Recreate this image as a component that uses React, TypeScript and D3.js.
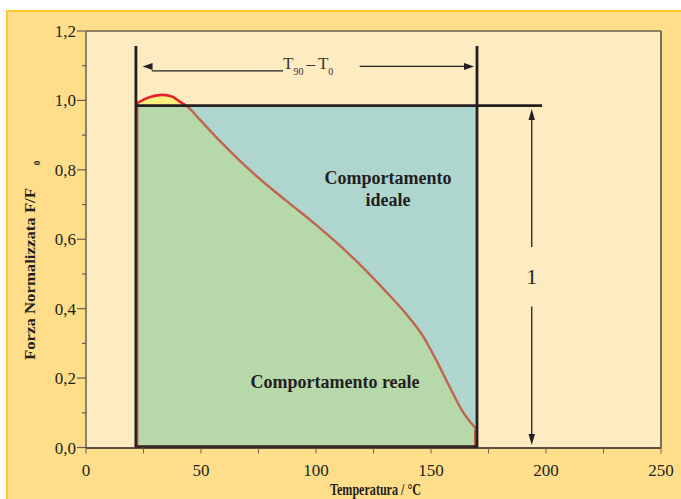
import React from 'react';
import * as d3 from 'd3';

// Curve: normalized force vs temperature
const temperature = [21.7, 27, 32.9, 37, 40.9, 43.8, 49.6, 53.9, 62.6, 71.3, 80, 88.7, 97.4, 107.5, 117.7, 129.3, 139.4, 146.7, 152.5, 158.3, 164, 170];
const force = [0.99, 1.008, 1.016, 1.012, 0.996, 0.984, 0.944, 0.913, 0.854, 0.799, 0.749, 0.702, 0.656, 0.599, 0.536, 0.457, 0.383, 0.319, 0.249, 0.172, 0.101, 0.051];

const xTickLabels = [0, 50, 100, 150, 200, 250];
const xTicksAll = [0, 25, 50, 75, 100, 125, 150, 175, 200, 225, 250];
const yTickLabels = [0, 0.2, 0.4, 0.6, 0.8, 1.0, 1.2];
const yTicksMinor = [0.1, 0.3, 0.5, 0.7, 0.9, 1.1];

const T0 = 21.7;
const T90 = 170;
const idealLevel = 0.985;
const idealLineEnd = 198.3;
const verticalTop = 1.157;
const crossingT = 44;
const markerT = 193.8;

const W = 681;
const H = 499;

export default function App() {
  const x = d3.scaleLinear().domain([0, 250]).range([86, 661]);
  const y = d3.scaleLinear().domain([0, 1.2]).range([447.5, 31]);
  const pts: [number, number][] = temperature.map((t, i) => [t, force[i]]);
  const curve = d3.curveMonotoneX;
  const line = d3.line<[number, number]>().x(d => x(d[0])).y(d => y(d[1])).curve(curve);
  const area = d3.area<[number, number]>().x(d => x(d[0])).y0(y(0)).y1(d => y(d[1])).curve(curve);
  const fmt = (v: number) => d3.format('.1f')(v).replace('.', ',');

  const dark = '#231F20';
  const axisGray = '#6B5E50';
  const serif = '"Liberation Serif", "DejaVu Serif", serif';

  // annotations
  const topArrowLeftY = y(1.098);
  const topLineLeftY = y(1.085);
  const topArrowRightY = y(1.098);
  const xm = x(markerT);

  return (
    <svg width={W} height={H} style={{ position: 'absolute', left: 0, top: 0, background: '#fff' }} fontFamily={serif}>
      <defs>
        <clipPath id="aboveLine">
          <rect x={0} y={0} width={W} height={y(idealLevel)} />
        </clipPath>
        <clipPath id="redPart">
          <rect x={0} y={0} width={x(crossingT)} height={H} />
        </clipPath>
        <clipPath id="brownPart">
          <rect x={x(crossingT)} y={0} width={W} height={H} />
        </clipPath>
      </defs>
      {/* outer band */}
      <rect x={7} y={11} width={W} height={H} fill="#FEDE8A" stroke="#FFC82C" strokeWidth={2} />
      {/* plot area */}
      <rect x={x(0)} y={y(1.2)} width={x(250) - x(0)} height={y(0) - y(1.2)} fill="#FDEBC2" />
      <line x1={x(0)} x2={x(250)} y1={y(1.2)} y2={y(1.2)} stroke={axisGray} strokeWidth={1.5} />
      <line x1={x(250)} x2={x(250)} y1={y(1.2)} y2={y(0)} stroke={axisGray} strokeWidth={1.8} />
      <line x1={x(0)} x2={x(0)} y1={y(1.2)} y2={y(0)} stroke={axisGray} strokeWidth={1.5} />

      {/* ideal behaviour */}
      <rect x={x(T0)} y={y(idealLevel)} width={x(T90) - x(T0)} height={y(0) - y(idealLevel)} fill="#AED5CE" />
      {/* real behaviour */}
      <path d={area(pts) || ''} fill="#B7D8A8" />
      <path d={area(pts) || ''} fill="#FBEF7E" clipPath="url(#aboveLine)" />
      <path d={line(pts) || ''} fill="none" stroke="#C0654E" strokeWidth={2.4} clipPath="url(#brownPart)" />
      <path d={line(pts) || ''} fill="none" stroke="#E8202A" strokeWidth={2.6} clipPath="url(#redPart)" />
      <line x1={x(T0) + 2} x2={x(T0) + 2} y1={y(0)} y2={y(force[0])} stroke="#D9453A" strokeWidth={1} />
      <line x1={x(T90) - 2} x2={x(T90) - 2} y1={y(0)} y2={y(force[force.length - 1])} stroke="#C0302A" strokeWidth={1.5} />

      {/* frame lines */}
      <line x1={x(T0)} x2={x(idealLineEnd)} y1={y(idealLevel)} y2={y(idealLevel)} stroke={dark} strokeWidth={2.6} />
      <line x1={x(T0)} x2={x(T0)} y1={y(verticalTop)} y2={y(0)} stroke={dark} strokeWidth={2.8} />
      <line x1={x(T90)} x2={x(T90)} y1={y(verticalTop)} y2={y(0)} stroke={dark} strokeWidth={2.8} />
      <line x1={x(T0)} x2={x(T90)} y1={y(0) - 1} y2={y(0) - 1} stroke="#3a2020" strokeWidth={2.6} />

      {/* bottom axis */}
      <line x1={x(0)} x2={x(250)} y1={y(0) + 0.5} y2={y(0) + 0.5} stroke={dark} strokeWidth={1.3} />
      {xTicksAll.map(t => (
        <line key={'xt' + t} x1={x(t)} x2={x(t)} y1={y(0)} y2={y(0) + 6} stroke={axisGray} strokeWidth={1} />
      ))}
      {xTickLabels.map(t => (
        <text key={'xl' + t} x={x(t)} y={476} textAnchor="middle" fontSize={17} fill={dark}>{t}</text>
      ))}
      {/* left axis */}
      {yTickLabels.map(v => (
        <g key={'yl' + v}>
          <line x1={x(0) - 9} x2={x(0)} y1={y(v)} y2={y(v)} stroke={axisGray} strokeWidth={1.2} />
          <text x={76} y={y(v) + 6} textAnchor="end" fontSize={17} fill={dark}>{fmt(v)}</text>
        </g>
      ))}
      {yTicksMinor.map(v => (
        <line key={'ym' + v} x1={x(0) - 4} x2={x(0)} y1={y(v)} y2={y(v)} stroke={axisGray} strokeWidth={1.2} />
      ))}

      {/* axis titles */}
      <text transform="translate(35,274) rotate(-90)" textAnchor="middle" fontSize={15.5} fontWeight="bold" fill={dark}
        textLength={172} lengthAdjust="spacingAndGlyphs">Forza Normalizzata F/F</text>
      <text transform="translate(40,163) rotate(-90)" textAnchor="middle" fontSize={9} fontWeight="bold" fill={dark}>0</text>
      <text x={375.5} y={495} textAnchor="middle" fontSize={16} fontWeight="bold" fill={dark}
        textLength={91} lengthAdjust="spacingAndGlyphs">Temperatura / °C</text>

      {/* region labels */}
      <text x={388} y={184} textAnchor="middle" fontSize={18} fontWeight="bold" fill={dark}>Comportamento</text>
      <text x={388} y={206} textAnchor="middle" fontSize={18} fontWeight="bold" fill={dark}>ideale</text>
      <text x={335} y={387.5} textAnchor="middle" fontSize={18} fontWeight="bold" fill={dark}>Comportamento reale</text>

      {/* T90 - T0 arrow */}
      <path d={`M${x(24.6)},${topArrowLeftY} L${x(24.6) + 10},${topArrowLeftY - 3.5} L${x(24.6) + 10},${topArrowLeftY + 3.5} Z`} fill={dark} />
      <line x1={x(28.6)} x2={x(85.7)} y1={topLineLeftY} y2={topLineLeftY} stroke={dark} strokeWidth={1.3} />
      <line x1={x(119)} x2={x(168.7) - 9} y1={topArrowRightY} y2={topArrowRightY} stroke={dark} strokeWidth={1.3} />
      <path d={`M${x(168.7)},${topArrowRightY} L${x(168.7) - 10},${topArrowRightY - 3.5} L${x(168.7) - 10},${topArrowRightY + 3.5} Z`} fill={dark} />
      <text x={283} y={68.5} fontSize={17} fill="#3b3535">T<tspan fontSize={10} dy={6}>90</tspan><tspan dy={-6} dx={3}>–</tspan><tspan dx={3}>T</tspan><tspan fontSize={10} dy={6}>0</tspan></text>

      {/* vertical "1" arrow */}
      <path d={`M${xm},${y(0.975)} L${xm - 3.2},${y(0.975) + 11} L${xm + 3.2},${y(0.975) + 11} Z`} fill={dark} />
      <line x1={xm} x2={xm} y1={y(0.975) + 9} y2={y(0.578)} stroke={dark} strokeWidth={1.3} />
      <line x1={xm} x2={xm} y1={y(0.406)} y2={y(0.007) - 9} stroke={dark} strokeWidth={1.3} />
      <path d={`M${xm},${y(0.007)} L${xm - 3.2},${y(0.007) - 11} L${xm + 3.2},${y(0.007) - 11} Z`} fill={dark} />
      <text x={xm} y={284} textAnchor="middle" fontSize={22} fill={dark}>1</text>
    </svg>
  );
}
